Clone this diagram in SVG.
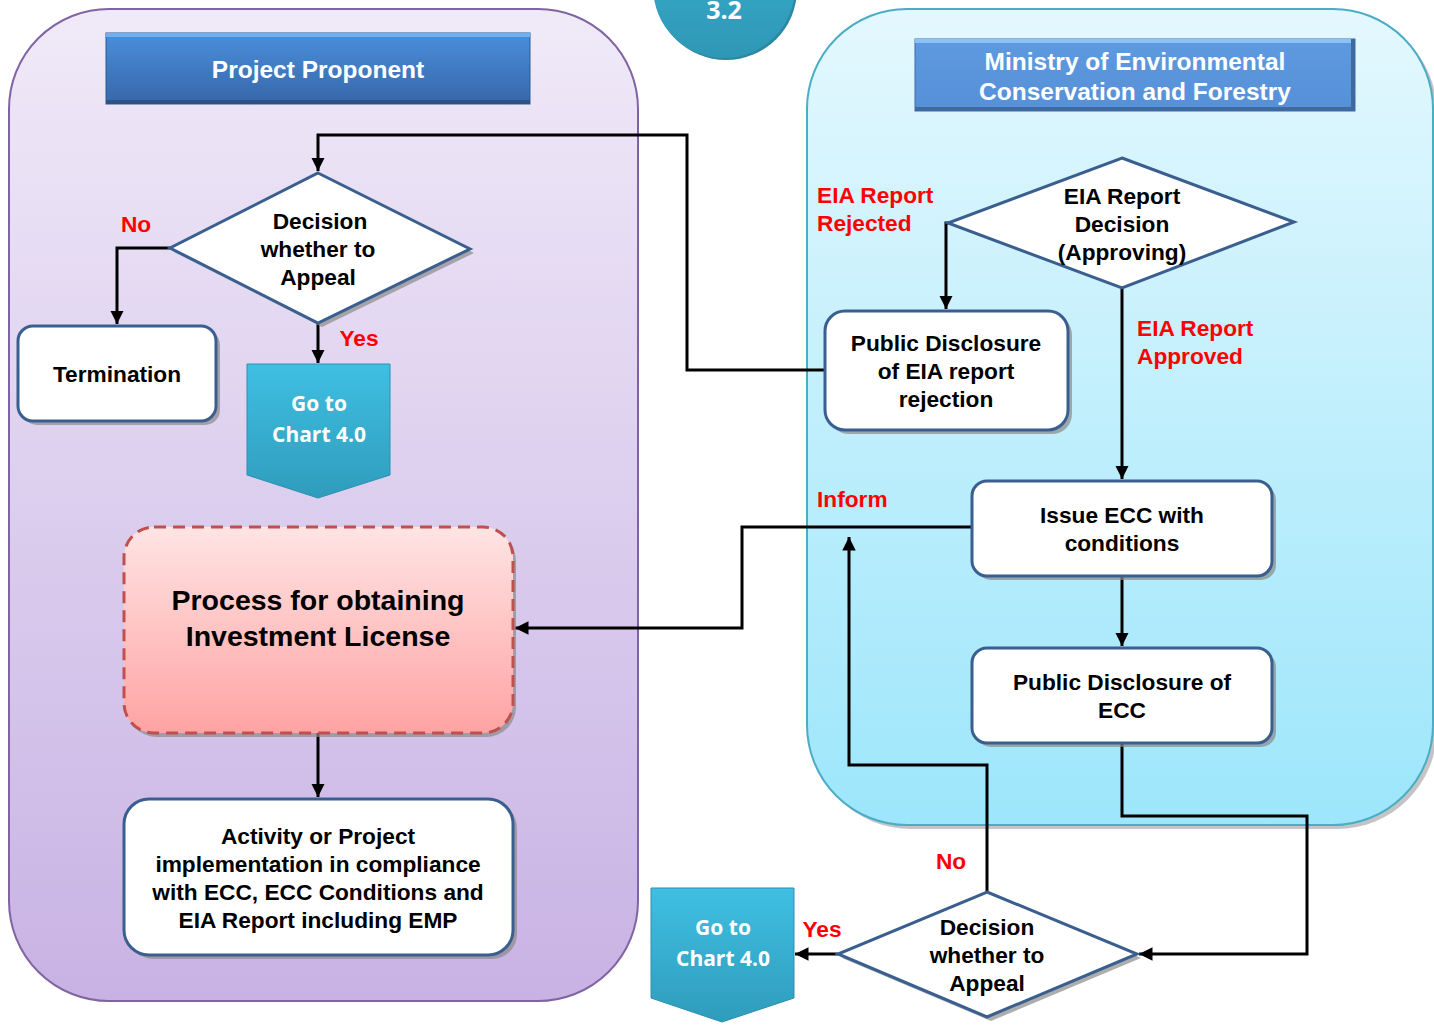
<svg xmlns="http://www.w3.org/2000/svg" width="1434" height="1025" viewBox="0 0 1434 1025">
<defs>
<linearGradient id="gLeft" x1="0" y1="0" x2="0" y2="1"><stop offset="0" stop-color="#f0eaf8"/><stop offset="1" stop-color="#c8b2e4"/></linearGradient>
<linearGradient id="gRight" x1="0" y1="0" x2="0" y2="1"><stop offset="0" stop-color="#e4f8fe"/><stop offset="1" stop-color="#9de6fb"/></linearGradient>
<linearGradient id="gHead1" x1="0" y1="0" x2="0" y2="1"><stop offset="0" stop-color="#4a8fdc"/><stop offset="1" stop-color="#3767a9"/></linearGradient>
<linearGradient id="gHead2" x1="0" y1="0" x2="0" y2="1"><stop offset="0" stop-color="#5e9ae0"/><stop offset="1" stop-color="#5690d8"/></linearGradient>
<linearGradient id="gGo" x1="0" y1="0" x2="0" y2="1"><stop offset="0" stop-color="#3fbfe2"/><stop offset="1" stop-color="#2f9cbc"/></linearGradient>
<linearGradient id="gProc" x1="0" y1="0" x2="0" y2="1"><stop offset="0" stop-color="#ffe4e4"/><stop offset="1" stop-color="#ffa3a3"/></linearGradient>
<linearGradient id="gCirc" x1="0" y1="0" x2="0" y2="1"><stop offset="0" stop-color="#38b0d0"/><stop offset="1" stop-color="#2f97b6"/></linearGradient>
<marker id="arr" viewBox="0 0 10 10" refX="10" refY="5" markerWidth="4.5" markerHeight="4.5" orient="auto" markerUnits="strokeWidth"><path d="M0,0 L10,5 L0,10 z" fill="#000"/></marker>
<style>
.box{fill:#fff;stroke:#3a5f8f;stroke-width:3}
.shd{fill:#8a8a8a;opacity:0.7}
.t{font-family:"Liberation Sans",Arial,sans-serif;font-weight:bold;font-size:22.7px;fill:#000;text-anchor:middle}
.big{font-size:28.5px}
.red{font-family:"Liberation Sans",Arial,sans-serif;font-weight:bold;font-size:22.7px;fill:#ff0000}
.hd{font-family:"Liberation Sans",Arial,sans-serif;font-weight:bold;font-size:24.5px;fill:#fff;text-anchor:middle}
.go{font-family:"Open Sans",Lato,sans-serif;font-weight:bold;font-size:21px;fill:#fff;text-anchor:middle}
.ln{fill:none;stroke:#000;stroke-width:3}
</style>
</defs>

<g id="panel-left">
<rect x="9" y="9" width="629" height="992" rx="100" fill="url(#gLeft)" stroke="#8064a2" stroke-width="2"/>
</g>
<g id="panel-right">
<rect x="811" y="13" width="626" height="816" rx="100" fill="#8a8a8a" opacity="0.5"/>
<rect x="807" y="9" width="626" height="816" rx="100" fill="url(#gRight)" stroke="#4bacc6" stroke-width="2"/>
</g>

<g id="badge">
<circle cx="726" cy="-11" r="71" fill="#2a88a3"/>
<circle cx="724" cy="-13" r="71" fill="url(#gCirc)"/>
<text x="724" y="19" font-family="'Open Sans',Lato,sans-serif" font-weight="bold" font-size="25" fill="#fff" text-anchor="middle">3.2</text>
</g>

<g id="hdr-left">
<rect x="106" y="33" width="424" height="71" fill="url(#gHead1)" stroke="#2f5a8f" stroke-width="1"/>
<rect x="106" y="33" width="424" height="4" fill="#6fb0f0"/>
<rect x="106" y="100" width="424" height="4" fill="#2d5384"/>
<text class="hd" x="318" y="78">Project Proponent</text>
</g>
<g id="hdr-right">
<rect x="915" y="39" width="440" height="72" fill="url(#gHead2)" stroke="#3d6da8" stroke-width="1"/>
<rect x="915" y="39" width="440" height="4" fill="#8cc2f4"/>
<rect x="915" y="107" width="440" height="4" fill="#3f6aa0"/>
<rect x="1351" y="39" width="4" height="72" fill="#3f6aa0"/>
<text class="hd" x="1135" y="70">Ministry of Environmental</text>
<text class="hd" x="1135" y="100">Conservation and Forestry</text>
</g>

<g id="connectors">
<polyline class="ln" points="825,370 687,370 687,135 318,135 318,171" marker-end="url(#arr)"/>
<polyline class="ln" points="170,248 117,248 117,324" marker-end="url(#arr)"/>
<line class="ln" x1="318" y1="323" x2="318" y2="363" marker-end="url(#arr)"/>
<line class="ln" x1="318" y1="733" x2="318" y2="797" marker-end="url(#arr)"/>
<polyline class="ln" points="950,223 946,223 946,309" marker-end="url(#arr)"/>
<line class="ln" x1="1122" y1="288" x2="1122" y2="479" marker-end="url(#arr)"/>
<polyline class="ln" points="972,527 742,527 742,628 515,628" marker-end="url(#arr)"/>
<line class="ln" x1="1122" y1="576" x2="1122" y2="646" marker-end="url(#arr)"/>
<polyline class="ln" points="1122,743 1122,816 1307,816 1307,954 1139,954" marker-end="url(#arr)"/>
<polyline class="ln" points="987,892 987,765 849,765 849,537" marker-end="url(#arr)"/>
<line class="ln" x1="838" y1="954" x2="795" y2="954" marker-end="url(#arr)"/>
</g>

<g id="lbls">
<text class="red" x="136" y="232" text-anchor="middle">No</text>
<text class="red" x="359" y="346" text-anchor="middle">Yes</text>
<text class="red" x="817" y="203">EIA Report</text>
<text class="red" x="817" y="231">Rejected</text>
<text class="red" x="1137" y="336">EIA Report</text>
<text class="red" x="1137" y="364">Approved</text>
<text class="red" x="817" y="507">Inform</text>
<text class="red" x="951" y="869" text-anchor="middle">No</text>
<text class="red" x="822" y="937" text-anchor="middle">Yes</text>
</g>

<g id="dec-left">
<polygon class="shd" points="322,177 474,253 322,327 174,252"/>
<polygon points="318,173 470,249 318,323 170,248" fill="#fff" stroke="#3a5f8f" stroke-width="3"/>
<text class="t" x="320" y="229">Decision</text>
<text class="t" x="318" y="257">whether to</text>
<text class="t" x="318" y="285">Appeal</text>
</g>

<g id="termination">
<rect class="shd" x="22" y="330" width="198" height="95" rx="15"/>
<rect class="box" x="18" y="326" width="198" height="95" rx="15"/>
<text class="t" x="117" y="382">Termination</text>
</g>

<g id="goto-left">
<path d="M247,364 H390 V475 L318,498 L247,475 Z" fill="url(#gGo)" stroke="#2e8fae" stroke-width="1"/>
<text class="go" x="319" y="411">Go to</text>
<text class="go" x="319" y="442">Chart 4.0</text>
</g>

<g id="process">
<rect class="shd" x="127" y="531" width="389" height="206" rx="30"/>
<rect x="124" y="527" width="389" height="206" rx="30" fill="url(#gProc)" stroke="#c0504d" stroke-width="3" stroke-dasharray="12,7"/>
<text class="t big" x="318" y="610">Process for obtaining</text>
<text class="t big" x="318" y="646">Investment License</text>
</g>

<g id="activity">
<rect class="shd" x="128" y="803" width="389" height="156" rx="25"/>
<rect class="box" x="124" y="799" width="389" height="156" rx="25"/>
<text class="t" x="318" y="844">Activity or Project</text>
<text class="t" x="318" y="872">implementation in compliance</text>
<text class="t" x="318" y="900">with ECC, ECC Conditions and</text>
<text class="t" x="318" y="928">EIA Report including EMP</text>
</g>

<g id="dec-eia">
<polygon points="1122,158 1294,222 1122,288 948,223" fill="#fff" stroke="#3a5f8f" stroke-width="3"/>
<text class="t" x="1122" y="204">EIA Report</text>
<text class="t" x="1122" y="232">Decision</text>
<text class="t" x="1122" y="260">(Approving)</text>
</g>

<g id="pd-rejection">
<rect class="shd" x="829" y="315" width="243" height="119" rx="20"/>
<rect class="box" x="825" y="311" width="243" height="119" rx="20"/>
<text class="t" x="946" y="351">Public Disclosure</text>
<text class="t" x="946" y="379">of EIA report</text>
<text class="t" x="946" y="407">rejection</text>
</g>

<g id="issue-ecc">
<rect class="shd" x="976" y="485" width="300" height="95" rx="15"/>
<rect class="box" x="972" y="481" width="300" height="95" rx="15"/>
<text class="t" x="1122" y="523">Issue ECC with</text>
<text class="t" x="1122" y="551">conditions</text>
</g>

<g id="pd-ecc">
<rect class="shd" x="976" y="652" width="300" height="95" rx="15"/>
<rect class="box" x="972" y="648" width="300" height="95" rx="15"/>
<text class="t" x="1122" y="690">Public Disclosure of</text>
<text class="t" x="1122" y="718">ECC</text>
</g>

<g id="dec-bottom">
<polygon class="shd" points="991,896 1141,958 991,1021 842,958"/>
<polygon points="987,892 1137,954 987,1017 838,954" fill="#fff" stroke="#3a5f8f" stroke-width="3"/>
<text class="t" x="987" y="935">Decision</text>
<text class="t" x="987" y="963">whether to</text>
<text class="t" x="987" y="991">Appeal</text>
</g>

<g id="goto-bottom">
<path d="M651,888 H794 V998 L722,1022 L651,998 Z" fill="url(#gGo)" stroke="#2e8fae" stroke-width="1"/>
<text class="go" x="723" y="935">Go to</text>
<text class="go" x="723" y="966">Chart 4.0</text>
</g>
</svg>
